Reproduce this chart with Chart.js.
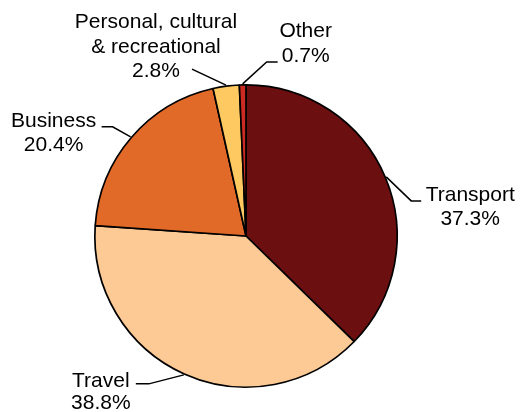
<!DOCTYPE html>
<html>
<head>
<meta charset="utf-8">
<script src="https://cdn.jsdelivr.net/npm/chart.js@4/dist/chart.umd.min.js"></script>
<style>
  html, body { margin: 0; padding: 0; background: #fff; }
  canvas { display: block; }
</style>
</head>
<body>
<canvas id="pieChart" width="521" height="412"></canvas>
<script>
const categories = ['Transport', 'Travel', 'Business', 'Personal, cultural\n& recreational', 'Other'];
const shares = [37.3, 38.8, 20.4, 2.8, 0.7];
const sliceColors = ['#6B0F10', '#FDC995', '#E26A28', '#FEC960', '#CC2A22'];

// leader line shape + text placement, per slice (relative offsets)
const labelLayout = [
    { elbow: [25, 24], end: [10, 0], text: [49, 0], lh: 24 },
    { elbow: [-35, 9], end: [-13, 0], text: [-35, 3], lh: 22 },
    { elbow: [-18, -10], end: [-11, 0], text: [-48, 0], lh: 24 },
    { elbow: [-34, -16], end: [0, 0], text: [-36, -41], lh: 24.5 },
    { elbow: [24, -22], end: [11, 0], text: [28, -25], lh: 25 }
];

const leaderLabels = {
    id: 'leaderLabels',
    afterDatasetsDraw(chart) {
        const ctx = chart.ctx;
        const arcs = chart.getDatasetMeta(0).data;
        ctx.save();
        ctx.strokeStyle = '#000';
        ctx.lineWidth = 1.5;
        ctx.fillStyle = '#000';
        ctx.font = '21px "Liberation Sans", Arial, sans-serif';
        ctx.textAlign = 'center';
        ctx.textBaseline = 'alphabetic';
        arcs.forEach((arc, i) => {
            const p = arc.getProps(['x', 'y', 'startAngle', 'endAngle', 'outerRadius'], true);
            const mid = (p.startAngle + p.endAngle) / 2;
            const r = p.outerRadius + 1;
            const sx = p.x + Math.cos(mid) * r;
            const sy = p.y + Math.sin(mid) * r;
            const lay = labelLayout[i];
            const ex = sx + lay.elbow[0], ey = sy + lay.elbow[1];
            const fx = ex + lay.end[0], fy = ey + lay.end[1];
            ctx.beginPath();
            ctx.moveTo(sx, sy);
            ctx.lineTo(ex, ey);
            ctx.lineTo(fx, fy);
            ctx.stroke();
            const lines = categories[i].split('\n').concat([shares[i].toFixed(1) + '%']);
            lines.forEach((t, k) => {
                ctx.fillText(t, fx + lay.text[0], fy + lay.text[1] + k * lay.lh);
            });
        });
        ctx.restore();
    }
};

new Chart(document.getElementById('pieChart').getContext('2d'), {
    type: 'pie',
    data: {
        labels: categories,
        datasets: [{
            data: shares,
            backgroundColor: sliceColors,
            borderColor: '#000',
            borderWidth: 1.7
        }]
    },
    options: {
        responsive: false,
        animation: false,
        devicePixelRatio: 1,
        layout: { padding: { left: 94, right: 123, top: 84, bottom: 24 } },
        plugins: {
            legend: { display: false },
            tooltip: { enabled: false }
        }
    },
    plugins: [leaderLabels]
});
</script>
</body>
</html>
